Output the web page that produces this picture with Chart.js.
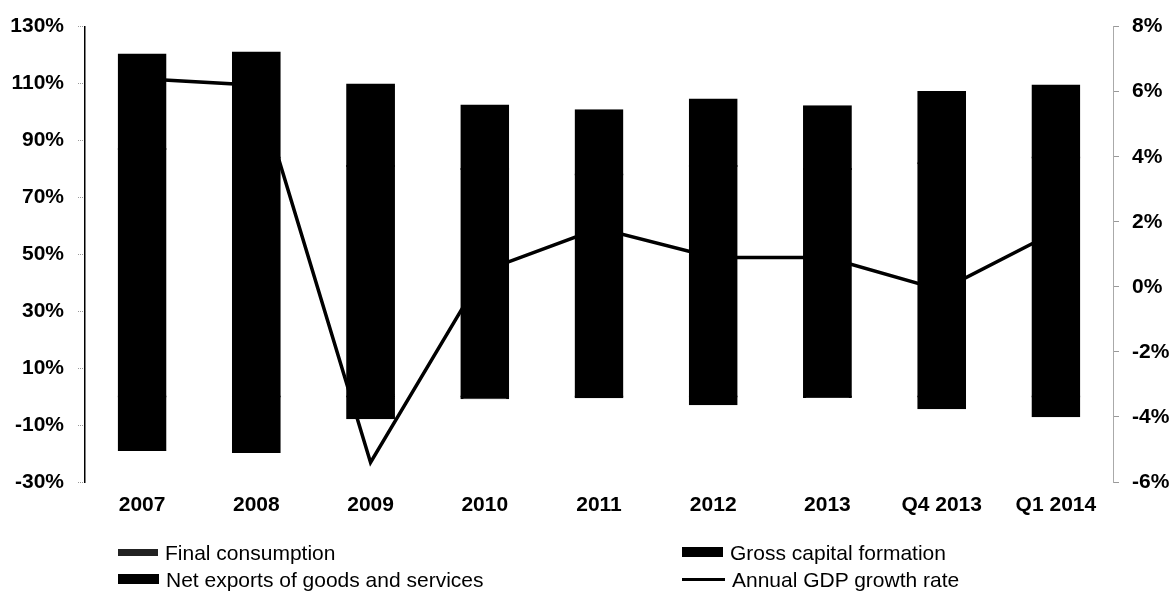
<!DOCTYPE html>
<html>
<head>
<meta charset="utf-8">
<script src="https://cdn.jsdelivr.net/npm/chart.js@4.4.1/dist/chart.umd.min.js"></script>
<style>
  html, body { margin: 0; padding: 0; background: #fff; }
  #wrap { position: relative; width: 1172px; height: 591px; overflow: hidden; }
  .item { position: absolute; height: 21px; font: 21px "Liberation Sans", Arial, sans-serif; line-height: 21px; white-space: nowrap; color: #000; }
  .mark { position: absolute; left: 0; background: #000; }
</style>
</head>
<body>
<div id="wrap">
  <canvas id="chart" width="1172" height="591"></canvas>
  <div id="legend"></div>
</div>
<script>
// data (share of GDP, %; growth rate, %)
var categories = ["2007", "2008", "2009", "2010", "2011", "2012", "2013", "Q4 2013", "Q1 2014"];
var finalConsumption = [87, 84, 81, 80, 78, 81, 80, 82, 84];
var grossCapital = [33.2, 36.9, 28.7, 22.3, 22.6, 23.4, 22, 25, 25.3];
var netExports = [-18.8, -19.5, -7.6, -0.6, -0.2, -2.7, -0.1, -4.1, -6.9];
var gdpGrowth = [6.4, 6.2, -5.4, 0.5, 1.8, 0.9, 0.9, -0.1, 1.7];
var leftTicks = [-30, -10, 10, 30, 50, 70, 90, 110, 130];
var rightTicks = [-6, -4, -2, 0, 2, 4, 6, 8];

var tickFont = { size: 21, weight: 'bold' };
Chart.defaults.font.family = '"Liberation Sans", Arial, sans-serif';
Chart.defaults.color = '#000';

var ctx = document.getElementById('chart').getContext('2d');
var chart = new Chart(ctx, {
    type: 'bar',
    data: {
        labels: categories,
        datasets: [
            {
                label: 'Annual GDP growth rate',
                type: 'line',
                data: gdpGrowth,
                yAxisID: 'y1',
                borderColor: '#000',
                borderWidth: 3.5,
                pointRadius: 0,
                tension: 0,
                fill: false,
                order: 0
            },
            { label: 'Final consumption', data: finalConsumption, backgroundColor: '#000', order: 1 },
            { label: 'Gross capital formation', data: grossCapital, backgroundColor: '#000', order: 1 },
            { label: 'Net exports of goods and services', data: netExports, backgroundColor: '#000', order: 1 }
        ]
    },
    options: {
        responsive: false,
        animation: false,
        layout: { padding: { top: 25, bottom: 64, left: 0, right: 0 } },
        plugins: { legend: { display: false }, tooltip: { enabled: false } },
        datasets: {
            bar: {
                barPercentage: 0.41,
                categoryPercentage: 1,
                borderWidth: 1,
                borderColor: '#000',
                borderSkipped: false,
                inflateAmount: 1
            }
        },
        scales: {
            x: {
                stacked: true,
                grid: { display: false },
                border: { display: false },
                ticks: { font: tickFont, padding: 3, maxRotation: 0 },
                afterFit: function (s) { s.height = 45; }
            },
            y: {
                stacked: true,
                position: 'left',
                min: leftTicks[0],
                max: leftTicks[leftTicks.length - 1],
                afterBuildTicks: function (s) { s.ticks = leftTicks.map(function (v) { return { value: v }; }); },
                ticks: { font: tickFont, padding: 14, callback: function (v) { return v + '%'; } },
                grid: {
                    color: function (c) { return c.tick && c.tick.value === 0 ? '#999' : 'rgba(0,0,0,0)'; },
                    lineWidth: 1,
                    tickLength: 7,
                    tickColor: '#999',
                    tickBorderDash: [1, 1]
                },
                border: { color: '#000', width: 1.5, dash: [2, 9] },
                afterFit: function (s) { s.width = 85; }
            },
            y1: {
                position: 'right',
                min: rightTicks[0],
                max: rightTicks[rightTicks.length - 1],
                afterBuildTicks: function (s) { s.ticks = rightTicks.map(function (v) { return { value: v }; }); },
                ticks: { font: tickFont, padding: 13, callback: function (v) { return v + '%'; } },
                grid: { drawOnChartArea: false, tickLength: 6, tickColor: '#999' },
                border: { color: '#aaa', width: 1 },
                afterFit: function (s) { s.width = 59; }
            }
        }
    }
});

// legend in two columns under the axis
var legendSpots = {
    'Final consumption': { left: 118, top: 542, w: 40, h: 7, color: '#222' },
    'Gross capital formation': { left: 682, top: 542, w: 41, h: 10, color: '#000' },
    'Net exports of goods and services': { left: 118, top: 569, w: 41, h: 10, color: '#000' },
    'Annual GDP growth rate': { left: 682, top: 569, w: 43, h: 3, color: '#000' }
};
var legend = document.getElementById('legend');
chart.data.datasets.forEach(function (ds) {
    var spot = legendSpots[ds.label];
    var item = document.createElement('div');
    item.className = 'item';
    item.style.left = spot.left + 'px';
    item.style.top = spot.top + 'px';
    var mark = document.createElement('span');
    mark.className = 'mark';
    mark.style.width = spot.w + 'px';
    mark.style.height = spot.h + 'px';
    mark.style.top = (10 - spot.h / 2) + 'px';
    mark.style.background = spot.color;
    var txt = document.createElement('span');
    txt.style.marginLeft = (spot.w + 7) + 'px';
    txt.textContent = ds.label;
    item.appendChild(mark);
    item.appendChild(txt);
    legend.appendChild(item);
});
</script>
</body>
</html>
